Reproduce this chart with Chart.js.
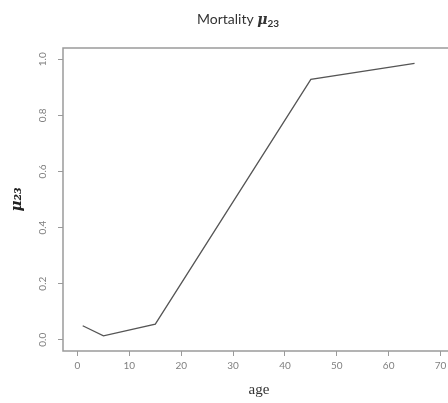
<!DOCTYPE html>
<html>
<meta charset="UTF-8">
<title>Mortality mu23</title>
<style type="text/css">
	html,
	body {
		margin: 0px;
		background: #ffffff;
	}

	.wrap {
		width: 448px;
		height: 403px;
		overflow: hidden;
	}
</style>
<script src="https://cdn.jsdelivr.net/npm/chart.js"></script>

<body>
	<div class="wrap"><canvas id="myCanvas" width="470" height="403"></canvas></div>

	<script>
		// values
		var ages = [1, 5, 15, 45, 65];
		var mu23 = [0.05, 0.014, 0.056, 0.928, 0.985];

		var xTicks = [0, 10, 20, 30, 40, 50, 60, 70];
		var yTicks = [0.0, 0.2, 0.4, 0.6, 0.8, 1.0];

		var points = ages.map(function (a, i) {
			return { x: a, y: mu23[i] };
		});

		// main title with mixed fonts, and the plot box
		var titlePlugin = {
			id: 'rTitle',
			afterDraw: function (chart) {
				var ctx = chart.ctx;
				var parts = [
					{ t: 'Mortality ', f: '14px Lato', dy: 0 },
					{ t: '\u03bc', f: 'bold italic 14px "DejaVu Serif"', dy: 0 },
					{ t: '23', f: 'bold 10px Lato', dy: 3 }
				];
				ctx.save();
				var w = 0;
				parts.forEach(function (p) {
					ctx.font = p.f;
					w += ctx.measureText(p.t).width;
				});
				var x = 238 - w / 2;
				ctx.fillStyle = '#333333';
				ctx.textBaseline = 'alphabetic';
				parts.forEach(function (p) {
					ctx.font = p.f;
					ctx.fillText(p.t, x, 24 + p.dy);
					x += ctx.measureText(p.t).width;
				});
				var a = chart.chartArea;
				ctx.strokeStyle = '#9a9a9a';
				ctx.lineWidth = 1.5;
				ctx.strokeRect(a.left, a.top, a.right - a.left, a.bottom - a.top);
				ctx.restore();
			}
		};

		var config = {
			type: 'scatter',
			data: {
				datasets: [{
					data: points,
					showLine: true,
					borderColor: '#555555',
					borderWidth: 1.3,
					pointRadius: 0,
					fill: false
				}]
			},
			options: {
				responsive: false,
				animation: false,
				layout: { padding: { top: 48, right: 15, left: 0, bottom: 0 } },
				plugins: {
					legend: { display: false },
					tooltip: { enabled: false },
					title: { display: false }
				},
				scales: {
					x: {
						type: 'linear',
						min: -2.8,
						max: 72.8,
						afterBuildTicks: function (s) {
							s.ticks = xTicks.map(function (v) { return { value: v }; });
						},
						afterFit: function (s) { s.height = 52; },
						grid: { drawOnChartArea: false, tickLength: 5, color: '#9a9a9a' },
						border: { display: false },
						ticks: {
							color: '#808080',
							font: { family: 'Lato', size: 10 },
							padding: 4,
							maxRotation: 0
						},
						title: {
							display: true,
							text: 'age',
							color: '#333333',
							font: { family: 'Liberation Serif', size: 15 },
							padding: { top: 0, bottom: 4 }
						}
					},
					y: {
						type: 'linear',
						min: -0.04,
						max: 1.04,
						afterBuildTicks: function (s) {
							s.ticks = yTicks.map(function (v) { return { value: v }; });
						},
						afterFit: function (s) { s.width = 63; },
						grid: { drawOnChartArea: false, tickLength: 5, color: '#9a9a9a' },
						border: { display: false },
						ticks: {
							color: '#808080',
							font: { family: 'Lato', size: 10 },
							padding: 8,
							minRotation: 90,
							maxRotation: 90,
							crossAlign: 'center',
							callback: function (v) { return v.toFixed(1); }
						},
						title: {
							display: true,
							text: '\u03bc\u2082\u2083',
							color: '#222222',
							font: { family: 'DejaVu Serif', size: 15, style: 'italic', weight: 'bold' },
							padding: { top: 8, bottom: 0 }
						}
					}
				}
			},
			plugins: [titlePlugin]
		};

		var myChart = new Chart(document.getElementById('myCanvas'), config);
	</script>
</body>

</html>
